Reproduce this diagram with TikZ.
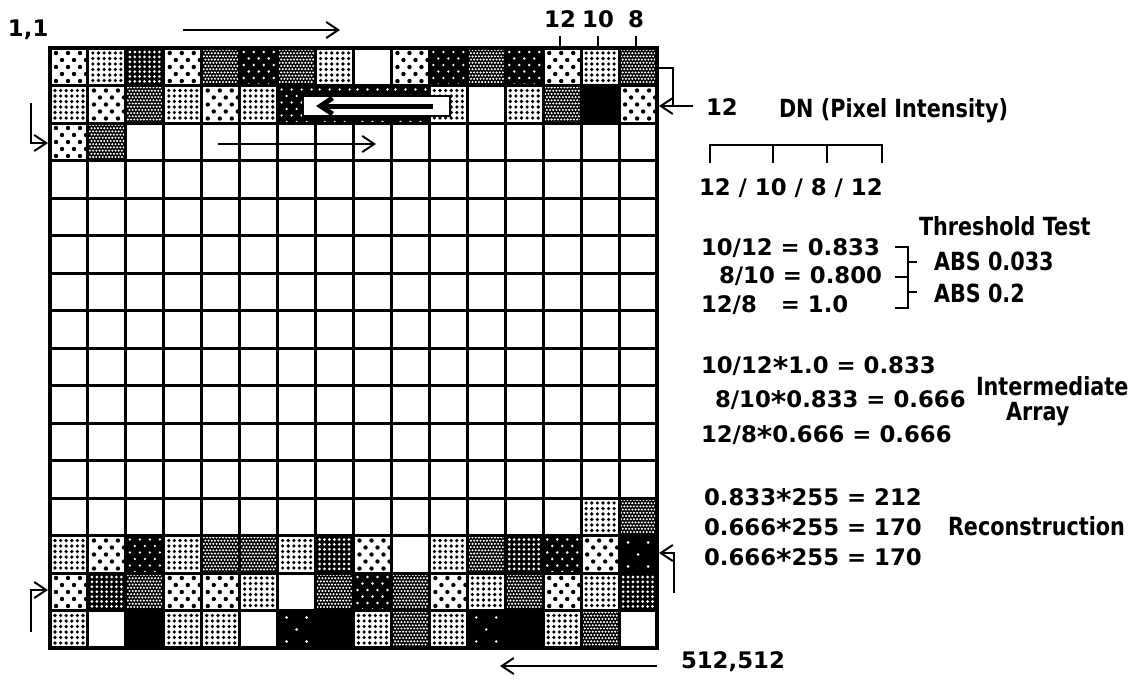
\documentclass[tikz,border=0pt]{standalone}
\usepackage{fontspec}
\setmainfont{DejaVu Sans}
\newfontfamily\wordfont[FakeStretch=0.83]{DejaVu Sans}
\usetikzlibrary{arrows.meta}

% one cell of the image, drawn at the origin of a shifted scope
\newcommand\cellw{}
\newcommand\cellK{\fill (0,0) rectangle (38,37.5);}
\newcommand\cellP{\fill[white] (0,0) rectangle (38,37.5);
  \fill \foreach \j in {0,...,4} {\foreach \i in {0,1,2} {({6+12*\i+6*mod(\j,2)},{5+7*\j}) circle (2.2)}};}
\newcommand\cellG{\fill[white] (0,0) rectangle (38,37.5);
  \fill \foreach \j in {0,...,5} {\foreach \i in {0,...,5} {({5+5.6*\i},{5+5.5*\j}) circle (1.8)}};}
\newcommand\cellD{\fill (0,0) rectangle (38,37.5);
  \fill[white] \foreach \j in {0,...,6} {\foreach \i in {0,...,6} {({4+4.9*\i},{4+4.9*\j}) circle (1.5)}};}
\newcommand\cellC{\fill (0,0) rectangle (38,37.5);
  \fill[white] \foreach \j in {0,...,11} {\foreach \i in {0,...,11} {({2+3.2*\i+1.6*mod(\j,2)},{2+3.2*\j}) circle (1.15)}};}
\newcommand\cellS{\fill (0,0) rectangle (38,37.5);
  \fill[white] \foreach \j in {0,...,5} {\foreach \i in {0,...,3} {({4+10*\i+5*mod(\j,2)},{4+6.5*\j}) circle (1.3)}};}
\newcommand\cellX{\fill (0,0) rectangle (38,37.5);
  \fill[white] (9,7) circle (1.4) (29,7) circle (1.4) (19,19) circle (1.4) (9,31) circle (1.4) (29,31) circle (1.4);}
\newcommand\tms{\raisebox{-0.45ex}{\scalebox{1.3}{*}}}

\tikzset{
  cellbox/.style={line width=1.5pt},
  lbl/.style={anchor=base west, inner sep=0pt},
  word/.style={lbl, font=\fontsize{12.5}{14}\selectfont\wordfont\bfseries},
  num/.style={anchor=base, inner sep=0pt}
}

\begin{document}
\begin{tikzpicture}[x=0.5pt, y=-0.5pt, >={Straight Barb[length=6pt,width=8pt]}, line width=1pt,
    font=\fontsize{11.4}{13}\selectfont\bfseries]
    \useasboundingbox (0,0) rectangle (1132,680);

    % patterned pixels
    \foreach \r/\cells in {1/{P,G,D,P,C,S,C,G,w,P,S,C,S,P,G,C},
                           2/{G,P,C,G,P,G,S,S,S,S,G,w,G,C,K,P},
                           3/{P,C,w,w,w,w,w,w,w,w,w,w,w,w,w,w},
                           13/{w,w,w,w,w,w,w,w,w,w,w,w,w,w,G,C},
                           14/{G,P,S,G,C,C,G,D,P,w,G,C,D,S,P,X},
                           15/{P,D,C,P,P,G,w,C,S,C,P,G,C,P,G,D},
                           16/{G,w,K,G,G,w,X,K,G,C,G,X,K,G,C,w}}
        \foreach \t [count=\c] in \cells {
            \begin{scope}[shift={({50+(\c-1)*37.94},{48+(\r-1)*37.5})}]
                \csname cell\t\endcsname
            \end{scope}
        }

    % grid
    \foreach \i in {0,...,16} {
        \draw[cellbox] ({50+\i*37.94},48) -- ({50+\i*37.94},648);
        \draw[cellbox] (50,{48+\i*37.5}) -- (657,{48+\i*37.5});
    }
    \draw[line width=2pt] (50,48) rectangle (657,648);

    % reverse scan inside row 2
    \coordinate (boxA) at (303,96);
    \coordinate (boxB) at (450,116);
    \draw[fill=white, line width=1pt] (boxA) rectangle (boxB);
    \coordinate (bs) at (433,106);
    \coordinate (be) at (316,106);
    \draw[->, line width=2.5pt] (bs) -- (be);

    % labels
    \node[lbl] (o11) at (7,37) {1,1};
    \node[num] (c12) at (560,27) {12};
    \node[num] (c10) at (598,27) {10};
    \node[num] (c8) at (636,27) {8};
    \foreach \n in {c12,c10,c8}
        \draw (\n.south |- 0,36) -- (\n.south |- 0,48);

    \node[lbl] (dn12) at (705,115) {12};
    \node[word] (dn) at (778,117) {DN (Pixel Intensity)};
    \node[lbl] (seq) at (698,195) {12 / 10 / 8 / 12};
    \draw (710,163) -- (710,145) -- (882,145) -- (882,163);
    \draw (773,145) -- (773,163);
    \draw (827,145) -- (827,163);

    \node[word] (tt) at (918,235) {Threshold Test};
    \node[lbl] (q1) at (700,255) {10/12 = 0.833};
    \node[lbl] (q2) at (718,283) {8/10 = 0.800};
    \node[lbl] (q3) at (700,312) {12/8\hspace{8pt} = 1.0};
    \node[word] (a1) at (933,270) {ABS 0.033};
    \node[word] (a2) at (933,302) {ABS 0.2};
    \draw (895,247) -- (908,247) -- (908,308) -- (895,308);
    \draw (895,277) -- (908,277);
    \draw (908,262) -- (917,262);
    \draw (908,292) -- (917,292);

    \node[lbl] (m1) at (700,373) {10/12\tms1.0 = 0.833};
    \node[lbl] (m2) at (714,407) {8/10\tms0.833 = 0.666};
    \node[lbl] (m3) at (700,442) {12/8\tms0.666 = 0.666};
    \node[word] (ia) at (975,395) {Intermediate};
    \node[word] (ar) at (1005,420) {Array};

    \node[lbl] (r1) at (703,505) {0.833\tms255 = 212};
    \node[lbl] (r2) at (703,535) {0.666\tms255 = 170};
    \node[lbl] (r3) at (703,565) {0.666\tms255 = 170};
    \node[word] (rc) at (947,535) {Reconstruction};
    \node[lbl] (p512) at (680,668) {512,512};

    % scan direction arrows
    \coordinate (ta) at (183,30);
    \coordinate (tb) at (340,30);
    \draw[->] (ta) -- (tb);
    \coordinate (ra) at (218,144);
    \coordinate (rb) at (376,144);
    \draw[->] (ra) -- (rb);
    \coordinate (lt1) at (31,103);
    \coordinate (lt2) at (48,143);
    \draw[->] (lt1) |- (lt2);
    \coordinate (rt1) at (657,68);
    \coordinate (rt2) at (673,106);
    \draw (rt1) -| (rt2);
    \coordinate (rt3) at (693,106);
    \coordinate (rt4) at (659,106);
    \draw[->] (rt3) -- (rt4);
    \coordinate (rb1) at (674,593);
    \coordinate (rb2) at (659,553);
    \draw[->] (rb1) |- (rb2);
    \coordinate (lb1) at (31,632);
    \coordinate (lb2) at (48,590);
    \draw[->] (lb1) |- (lb2);
    \coordinate (bb1) at (657,666);
    \coordinate (bb2) at (500,666);
    \draw[->] (bb1) -- (bb2);
\end{tikzpicture}
\end{document}
